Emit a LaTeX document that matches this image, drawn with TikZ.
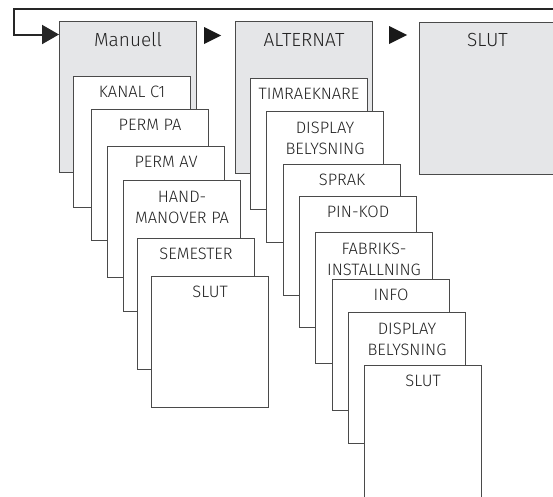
\documentclass[tikz,border=0pt]{standalone}
\usepackage{fontspec}
\setmainfont{Fira Sans Light}
\usetikzlibrary{calc,arrows.meta}
\definecolor{boxgray}{HTML}{E5E6E8}
\definecolor{edge}{HTML}{4A4A4A}
\definecolor{txt}{HTML}{222222}
\tikzset{
  mainbox/.style={draw=edge, line width=1.1pt, fill=boxgray, anchor=north west, inner sep=0pt, minimum width=137pt, minimum height=152pt},
  subbox/.style={draw=edge, line width=1.1pt, fill=white, anchor=north west, inner sep=0pt, minimum width=117pt, minimum height=131pt},
  hlbl/.style={text=txt, font=\fontsize{19}{22}\selectfont, inner sep=0pt},
  lbl/.style={text=txt, font=\fontsize{16.5}{21}\selectfont, inner sep=0pt, align=center},
  tri/.style={fill=black!90},
  loopline/.style={draw=black!85, line width=2pt, -{Triangle[length=17pt,width=19pt]}}
}
\begin{document}
\begin{tikzpicture}[x=1pt,y=-1pt]
\useasboundingbox (0,0) rectangle (553,496);
\clip (0,0) rectangle (553,496);
% main boxes
\node[mainbox, minimum height=151pt] (man) at (59,21) {};
\node[mainbox] (alt) at (235,21) {};
\node[mainbox, minimum width=136pt] (slut) at (419,22) {};
\node[hlbl] (mant) at ($(man.north)+(0,18.5)$) {Manuell};
\node[hlbl] (altt) at ($(alt.north)+(0,18.5)$) {ALTERNAT};
\node[hlbl] (slutt) at ($(slut.north)+(0,18)$) {SLUT};
% arrows between main boxes
\fill[tri] ($(man.north east)+(7,6)$) -- ($(man.north east)+(7,23)$) -- ($(man.north east)+(24,14.5)$) -- cycle;
\fill[tri] ($(alt.north east)+(16,5)$) -- ($(alt.north east)+(16,23)$) -- ($(alt.north east)+(34,14)$) -- cycle;
% feedback loop
\coordinate (loopstart) at (560,8.5);
\coordinate (loopa) at (14,8.5);
\draw[loopline] (loopstart) -- (loopa) |- ($(man.north west)+(0,13.5)$);
% Manuell sub-menu
\node[subbox] (k1) at (73,76) {};
\node[lbl] (k1t) at ($(k1.north)+(0,16)$) {KANAL C1};
\node[subbox] (pp) at (91,109) {};
\node[lbl] (ppt) at ($(pp.north)+(0,16)$) {PERM PA};
\node[subbox] (pav) at (107,146) {};
\node[lbl] (pavt) at ($(pav.north)+(0,16)$) {PERM AV};
\node[subbox] (hand) at (123,180) {};
\node[lbl] (handt) at ($(hand.north)+(0,27)$) {HAND-\\MANOVER PA};
\node[subbox] (sem) at (137,238) {};
\node[lbl] (semt) at ($(sem.north)+(0,16)$) {SEMESTER};
\node[subbox] (ms) at (151,276) {};
\node[lbl] (mst) at ($(ms.north)+(0,16)$) {SLUT};
% ALTERNAT sub-menu
\node[subbox] (tim) at (250,78) {};
\node[lbl] (timt) at ($(tim.north)+(0,16)$) {TIMRAEKNARE};
\node[subbox] (disp) at (266,111) {};
\node[lbl] (dispt) at ($(disp.north)+(0,27)$) {DISPLAY\\BELYSNING};
\node[subbox] (spr) at (283,164) {};
\node[lbl] (sprt) at ($(spr.north)+(0,16)$) {SPRAK};
\node[subbox] (pin) at (299,196) {};
\node[lbl] (pint) at ($(pin.north)+(0,16)$) {PIN-KOD};
\node[subbox] (fab) at (315,232) {};
\node[lbl] (fabt) at ($(fab.north)+(0,27)$) {FABRIKS-\\INSTALLNING};
\node[subbox] (info) at (332,279) {};
\node[lbl] (infot) at ($(info.north)+(0,16)$) {INFO};
\node[subbox] (disp2) at (348,312) {};
\node[lbl] (disp2t) at ($(disp2.north)+(0,27)$) {DISPLAY\\BELYSNING};
\node[subbox, minimum height=140pt] (as) at (364,365) {};
\node[lbl] (ast) at ($(as.north)+(0,16)$) {SLUT};
\end{tikzpicture}
\end{document}
